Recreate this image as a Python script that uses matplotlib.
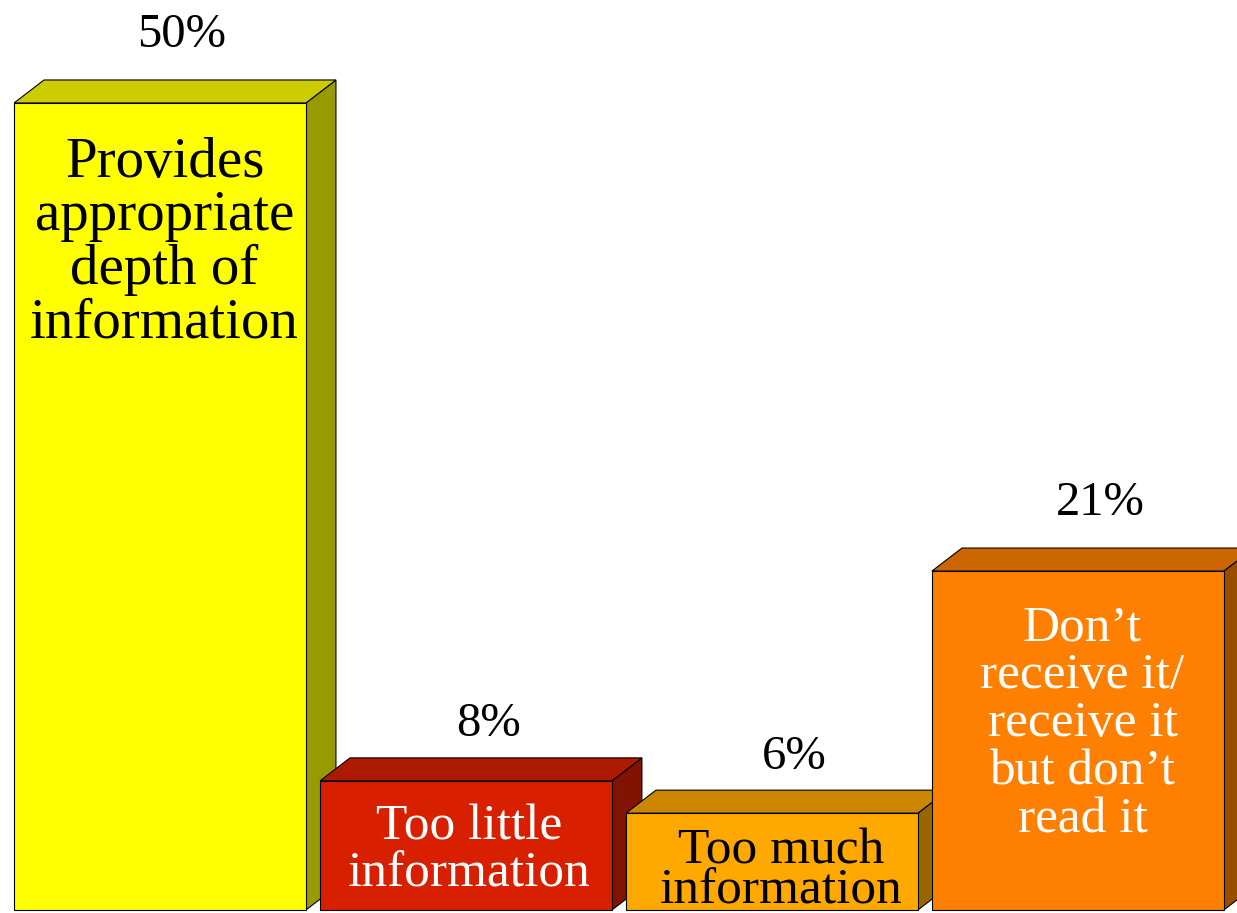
import matplotlib
matplotlib.use("Agg")
import matplotlib.pyplot as plt
from matplotlib.colors import to_rgb

plt.rcParams['font.family'] = ['Liberation Serif', 'DejaVu Serif']

categories = ["Provides\nappropriate\ndepth of\ninformation",
              "Too little\ninformation",
              "Too much\ninformation",
              "Don\u2019t\nreceive it/\nreceive it\nbut don\u2019t\nread it"]
values = [50, 8, 6, 21]
front_colors = ["#FFFF00", "#D82000", "#FFA800", "#FF8000"]
text_colors = ["black", "white", "black", "white"]


def shade(c, f):
    r, g, b = to_rgb(c)
    return (r * f, g * f, b * f)


fig = plt.figure(figsize=(12.37, 9.13), dpi=100)
ax = fig.add_axes([0, 0, 1, 1])
ax.set_xlim(-0.523, 3.520)
ax.set_ylim(-0.186, 56.38)
ax.set_axis_off()

w = 0.954      # bar width
dx = 0.098     # depth offset, x
dy = 1.425     # depth offset, y

for i, (lab, v, fc, tc) in enumerate(zip(categories, values, front_colors, text_colors)):
    x0, x1 = i - w / 2, i + w / 2
    # side face
    ax.fill([x1, x1 + dx, x1 + dx, x1], [0, dy, v + dy, v],
            color=shade(fc, 0.6), ec="black", lw=0.8, zorder=2)
    # top face
    ax.fill([x0, x1, x1 + dx, x0 + dx], [v, v, v + dy, v + dy],
            color=shade(fc, 0.8), ec="black", lw=0.8, zorder=2)
    # front face
    ax.fill([x0, x1, x1, x0], [0, 0, v, v],
            color=fc, ec="black", lw=0.8, zorder=3)

    lab_y = v + 4.2 if v >= 20 else v + 3.5
    ax.text(i + 0.072, lab_y, f"{v}%", ha="center", va="center",
            fontsize=35, color="black")

    fs = 41 if v >= 40 else 37
    if v >= 20:
        ax.text(i + 0.015, v - 2.1, lab, ha="center", va="top",
                fontsize=fs, color=tc, linespacing=1.04, zorder=4)
    elif v >= 8:
        ax.text(i + 0.01, v / 2 - 0.33, lab, ha="center", va="center",
                fontsize=fs, color=tc, linespacing=1.04, zorder=4)
    else:
        # short bar: lines squeezed together
        ax.text(i + 0.03, v / 2 - 0.58, lab, ha="center", va="center",
                fontsize=fs, color=tc, linespacing=0.82, zorder=4)

fig.savefig("out.png", dpi=100, facecolor="white")
